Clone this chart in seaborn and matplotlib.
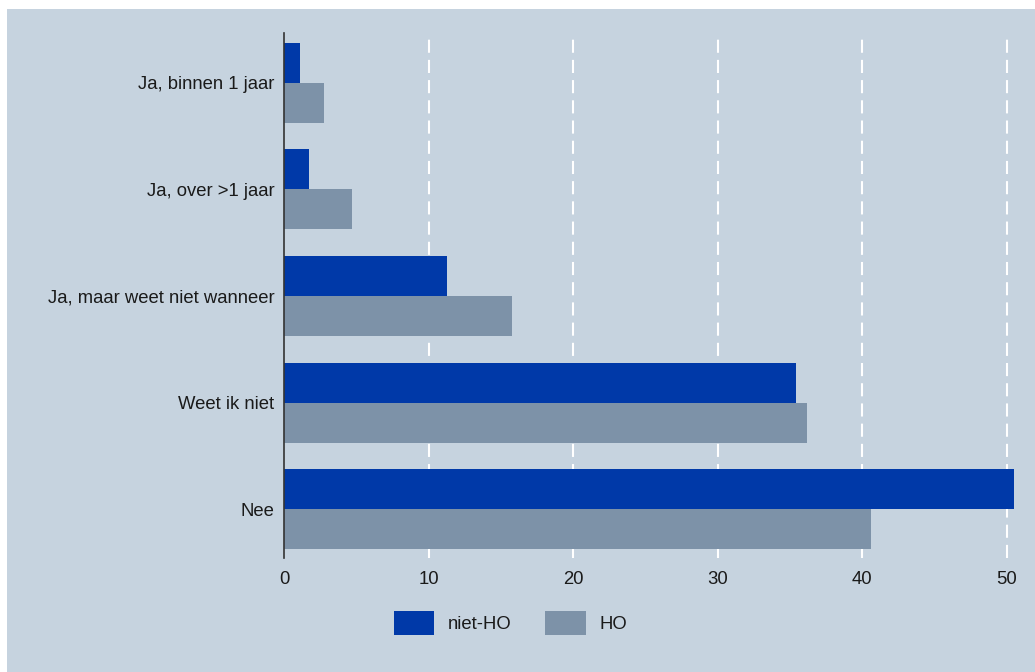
import matplotlib
matplotlib.use("Agg")
import matplotlib.pyplot as plt
import seaborn as sns
import pandas as pd
from matplotlib.patches import Rectangle

C_ACHTERGROND = "#c6d3df"
C_NIET_HO = "#0039a8"
C_HO = "#7d92a8"
C_TEKST = "#1a1a1a"

categorieen = ["Ja, binnen 1 jaar", "Ja, over >1 jaar", "Ja, maar weet niet wanneer",
               "Weet ik niet", "Nee"]
niet_ho = [1.1, 1.7, 11.3, 35.4, 50.5]
ho = [2.8, 4.7, 15.8, 36.2, 40.6]
groepen = ["niet-HO", "HO"]
x_ticks = [0, 10, 20, 30, 40, 50]

df = pd.DataFrame({
    "categorie": categorieen * 2,
    "waarde": niet_ho + ho,
    "groep": [groepen[0]] * len(categorieen) + [groepen[1]] * len(categorieen),
})

sns.set_theme(style="white")
plt.rcParams['font.family'] = ['Liberation Sans', 'DejaVu Sans']
plt.rcParams['text.color'] = C_TEKST
plt.rcParams['xtick.color'] = C_TEKST
plt.rcParams['ytick.color'] = C_TEKST

fig = plt.figure(figsize=(10.35, 6.72), dpi=100, facecolor="white")
# achtergrondvlak met witte rand links en boven
fig.patches.append(Rectangle((7 / 1035, 0), 1 - 7 / 1035, 1 - 9 / 672,
                             transform=fig.transFigure, facecolor=C_ACHTERGROND,
                             edgecolor="none", zorder=-10))

links, breedte = 284 / 1035, 51 * 14.46 / 1035
ax = fig.add_axes([links, 1 - 557.5 / 672, breedte, (557.5 - 33.3) / 672])
ax.set_facecolor("none")

sns.barplot(data=df, y="categorie", x="waarde", hue="groep", orient="h",
            order=categorieen, hue_order=groepen, width=0.75, saturation=1,
            palette=[C_NIET_HO, C_HO], linewidth=0, ax=ax, legend=True)

ax.set_xlim(0, 51)
ax.set_ylim(4.452, -0.463)
ax.set_xticks(x_ticks)
ax.set_xlabel("")
ax.set_ylabel("")
ax.tick_params(axis="both", length=0, labelsize=13.3)
ax.tick_params(axis="x", pad=10)
ax.tick_params(axis="y", pad=7)

for x in x_ticks[1:]:
    ax.axvline(x, color="white", lw=1.5, ls=(0, (6.3, 3.4)), zorder=0.5)

for s in ["top", "right", "bottom"]:
    ax.spines[s].set_visible(False)
ax.spines["left"].set_color("#333333")
ax.spines["left"].set_linewidth(1.2)
ax.spines["left"].set_zorder(3)

handles, labels = ax.get_legend_handles_labels()
ax.get_legend().remove()
fig.legend(handles, labels, loc="center", bbox_to_anchor=(510.5 / 1035, 1 - 623 / 672),
           ncol=2, frameon=False, fontsize=13.3, handlelength=2.2, handleheight=1.65,
           handletextpad=0.75, columnspacing=1.8, borderpad=0)

plt.savefig("out.png", dpi=100, facecolor="white")
plt.close()
